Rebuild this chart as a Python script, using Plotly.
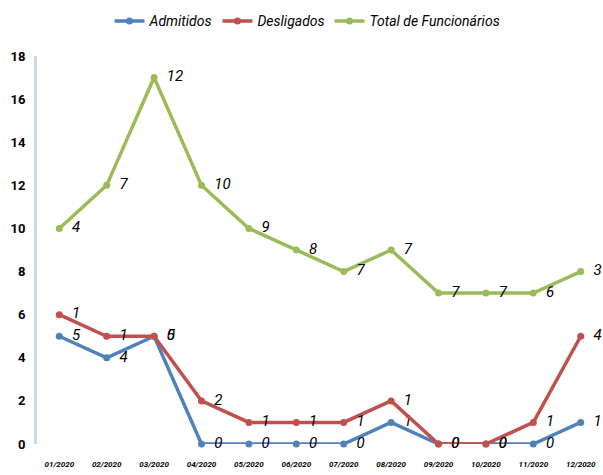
import plotly.graph_objects as go

months = ["01/2020", "02/2020", "03/2020", "04/2020", "05/2020", "06/2020",
          "07/2020", "08/2020", "09/2020", "10/2020", "11/2020", "12/2020"]
admitidos = [5, 4, 5, 0, 0, 0, 0, 1, 0, 0, 0, 1]
desligados = [1, 1, 0, 2, 1, 1, 1, 1, 0, 0, 1, 4]
total_func = [4, 7, 12, 10, 9, 8, 7, 7, 7, 7, 6, 3]
y_ticks = [0, 2, 4, 6, 8, 10, 12, 14, 16, 18]

series = [
    ("Admitidos", admitidos, "#4f81bd"),
    ("Desligados", desligados, "#c0504d"),
    ("Total de Funcionários", total_func, "#9bbb59"),
]

label_font = "Liberation Sans Narrow, Roboto, Liberation Sans, sans-serif"

fig = go.Figure()
for name, vals, color in series:
    fig.add_trace(go.Scatter(
        x=months, y=vals, name=name, stackgroup="one", fill="none",
        mode="lines+markers+text", cliponaxis=False,
        line=dict(color=color, width=3.5),
        marker=dict(color=color, size=7),
        text=[str(v) for v in vals], texttemplate="\u00a0\u00a0%{text}",
        textposition="middle right",
        textfont=dict(family=label_font, size=15, color="#000000", style="italic"),
    ))

fig.update_layout(
    width=603, height=475,
    margin=dict(l=37, r=0, t=56, b=31, autoexpand=False),
    plot_bgcolor="white", paper_bgcolor="white",
    showlegend=True,
    legend=dict(orientation="h", xref="container", yref="container",
                x=0.51, y=0.955, xanchor="center", yanchor="middle",
                font=dict(family=label_font, size=14, color="#000000", style="italic"),
                itemwidth=30, tracegroupgap=0),
    xaxis=dict(type="category", range=[-0.47, 11.47], showgrid=False,
               showline=False, zeroline=False, ticks="", automargin=False,
               tickfont=dict(family=label_font, size=8, color="#000000",
                             style="italic", weight="bold"),
               ticklabelstandoff=14),
    yaxis=dict(range=[0, 18], tickvals=y_ticks, showgrid=False, zeroline=False,
               showline=True, linecolor="#c6d9f1", linewidth=3, automargin=False,
               tickfont=dict(family=label_font, size=13, color="#000000", weight="bold"),
               ticklabelstandoff=6),
)

fig.write_html("out.html", config={"displayModeBar": False},
               post_script="document.body.style.margin='0px';document.body.style.overflow='hidden';")
